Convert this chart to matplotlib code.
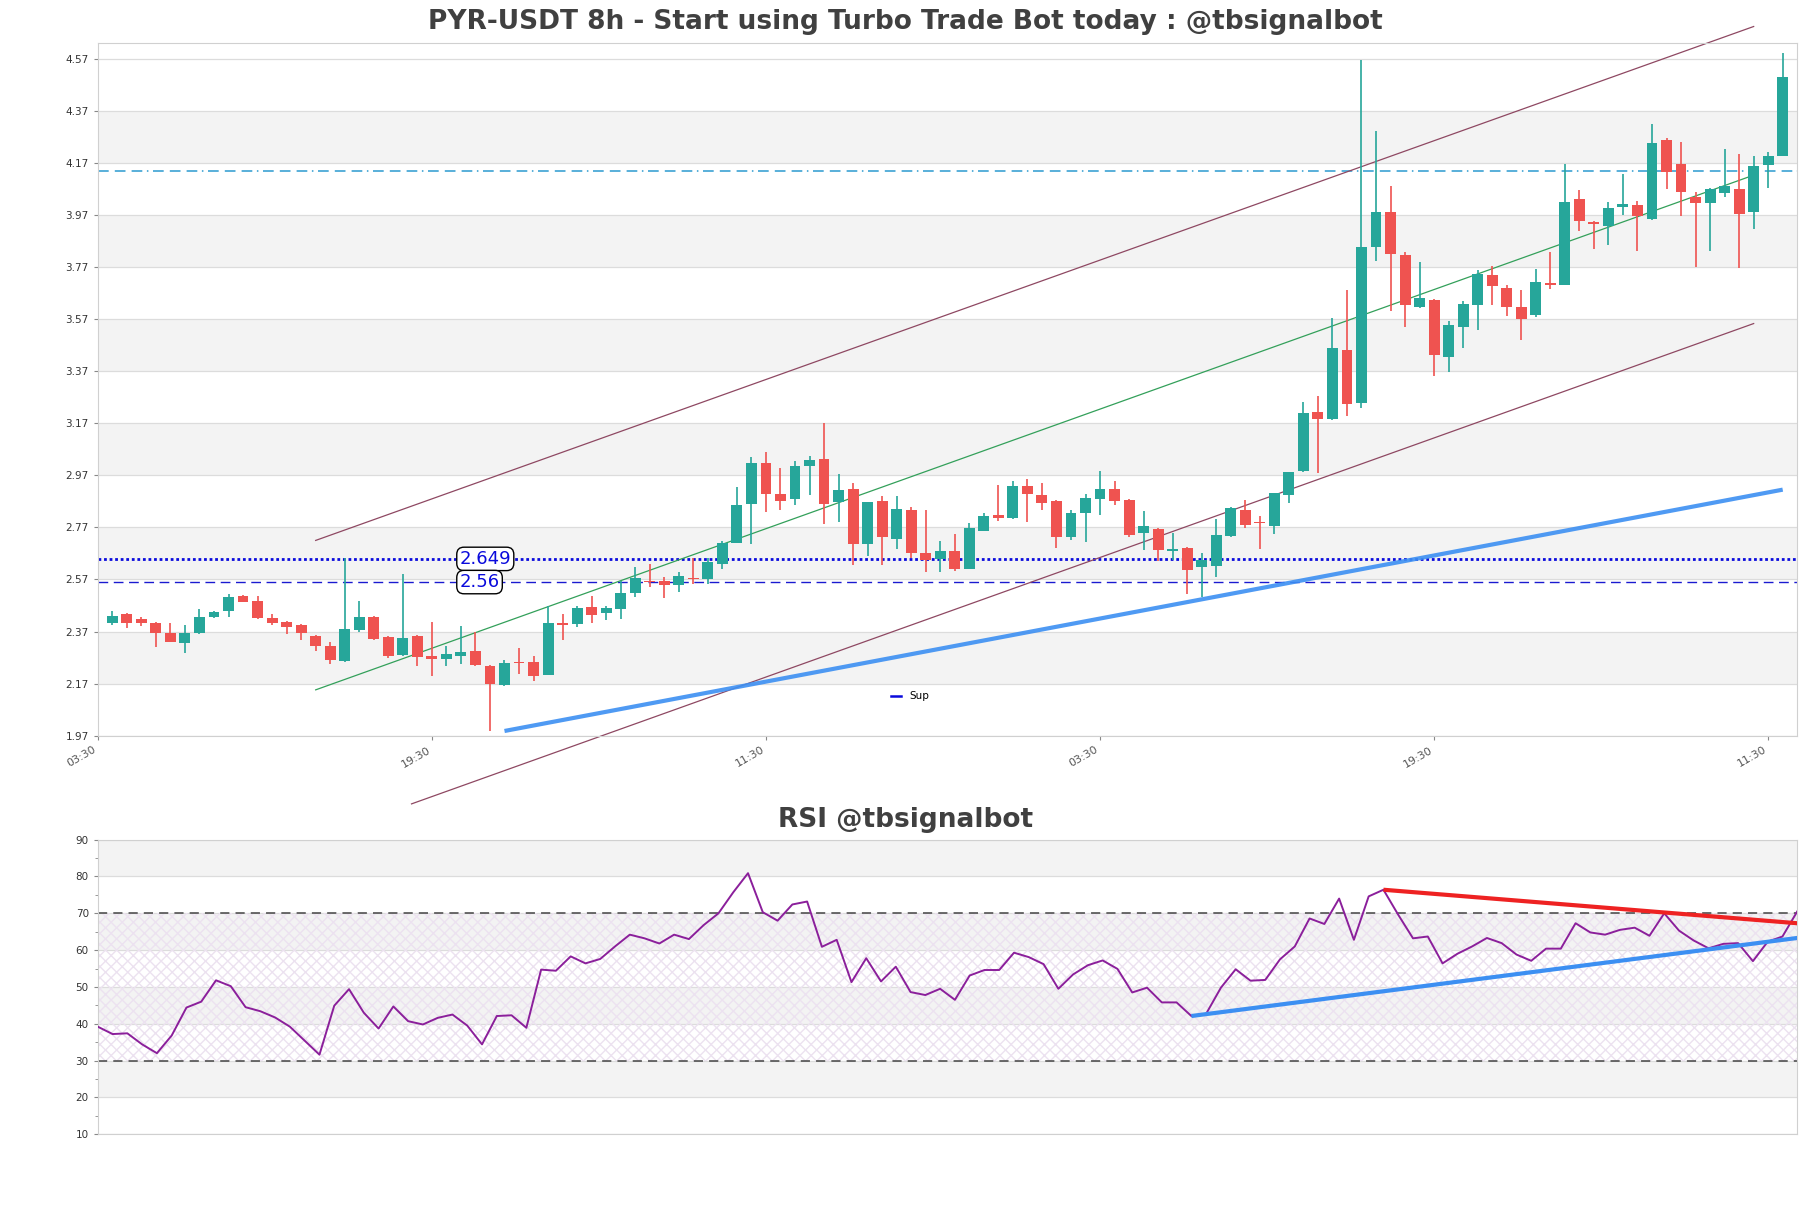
import numpy as np
import matplotlib
matplotlib.use("Agg")
import matplotlib.pyplot as plt
from matplotlib.lines import Line2D

# ---------------- data ----------------
opens = [2.404, 2.436, 2.417, 2.404, 2.366, 2.325, 2.366, 2.424, 2.448, 2.506,
         2.486, 2.422, 2.408, 2.397, 2.352, 2.314, 2.256, 2.374, 2.427, 2.348,
         2.279, 2.353, 2.277, 2.264, 2.275, 2.296, 2.239, 2.165, 2.254, 2.254,
         2.202, 2.403, 2.399, 2.463, 2.443, 2.457, 2.519, 2.566, 2.566, 2.550,
         2.577, 2.570, 2.630, 2.709, 2.858, 3.017, 2.897, 2.879, 3.006, 3.032,
         2.868, 2.916, 2.706, 2.870, 2.725, 2.835, 2.673, 2.650, 2.680, 2.610,
         2.758, 2.819, 2.808, 2.928, 2.893, 2.870, 2.733, 2.825, 2.879, 2.917,
         2.875, 2.749, 2.763, 2.681, 2.690, 2.619, 2.621, 2.737, 2.835, 2.791,
         2.774, 2.896, 2.985, 3.214, 3.185, 3.451, 3.246, 3.847, 3.983, 3.818,
         3.616, 3.642, 3.426, 3.538, 3.623, 3.741, 3.691, 3.617, 3.584, 3.709,
         3.700, 4.033, 3.942, 3.926, 4.000, 4.010, 3.956, 4.257, 4.164, 4.041,
         4.015, 4.054, 4.068, 3.981, 4.162, 4.196]
highs = [2.450, 2.443, 2.425, 2.408, 2.404, 2.395, 2.457, 2.450, 2.514, 2.510,
         2.507, 2.438, 2.412, 2.400, 2.357, 2.328, 2.651, 2.487, 2.431, 2.352,
         2.591, 2.355, 2.407, 2.313, 2.393, 2.368, 2.241, 2.260, 2.305, 2.276,
         2.467, 2.436, 2.467, 2.505, 2.469, 2.565, 2.616, 2.631, 2.579, 2.599,
         2.652, 2.652, 2.717, 2.925, 3.040, 3.058, 2.999, 3.026, 3.043, 3.171,
         2.974, 2.942, 2.866, 2.892, 2.892, 2.849, 2.835, 2.719, 2.743, 2.788,
         2.825, 2.932, 2.947, 2.955, 2.939, 2.875, 2.835, 2.897, 2.988, 2.948,
         2.878, 2.833, 2.766, 2.747, 2.695, 2.671, 2.801, 2.850, 2.877, 2.814,
         2.901, 2.983, 3.252, 3.276, 3.575, 3.682, 4.564, 4.293, 4.083, 3.828,
         3.788, 3.648, 3.564, 3.641, 3.760, 3.773, 3.700, 3.683, 3.764, 3.827,
         4.164, 4.065, 3.946, 4.018, 4.127, 4.024, 4.318, 4.266, 4.249, 4.060,
         4.074, 4.222, 4.204, 4.196, 4.213, 4.592]
lows = [2.397, 2.382, 2.390, 2.311, 2.330, 2.288, 2.361, 2.421, 2.424, 2.482,
        2.419, 2.394, 2.362, 2.336, 2.295, 2.247, 2.254, 2.369, 2.337, 2.270,
        2.276, 2.237, 2.198, 2.237, 2.247, 2.237, 1.989, 2.161, 2.208, 2.179,
        2.202, 2.339, 2.388, 2.404, 2.415, 2.418, 2.504, 2.542, 2.497, 2.523,
        2.552, 2.552, 2.611, 2.709, 2.706, 2.831, 2.837, 2.857, 2.896, 2.783,
        2.791, 2.625, 2.661, 2.625, 2.687, 2.651, 2.598, 2.598, 2.602, 2.610,
        2.755, 2.796, 2.803, 2.791, 2.837, 2.690, 2.721, 2.712, 2.816, 2.855,
        2.733, 2.682, 2.642, 2.646, 2.515, 2.501, 2.579, 2.733, 2.767, 2.686,
        2.743, 2.864, 2.982, 2.978, 3.184, 3.198, 3.229, 3.793, 3.601, 3.540,
        3.611, 3.350, 3.368, 3.461, 3.530, 3.623, 3.582, 3.488, 3.580, 3.687,
        3.700, 3.908, 3.838, 3.854, 3.969, 3.832, 3.949, 4.069, 3.965, 3.769,
        3.831, 4.039, 3.765, 3.918, 4.072, 4.196]
closes = [2.429, 2.403, 2.403, 2.364, 2.330, 2.366, 2.427, 2.445, 2.503, 2.484,
          2.422, 2.404, 2.389, 2.363, 2.316, 2.261, 2.381, 2.425, 2.343, 2.277,
          2.346, 2.272, 2.265, 2.284, 2.292, 2.241, 2.168, 2.250, 2.249, 2.198,
          2.403, 2.397, 2.459, 2.435, 2.459, 2.518, 2.574, 2.561, 2.547, 2.585,
          2.573, 2.636, 2.710, 2.857, 3.018, 2.900, 2.873, 3.005, 3.030, 2.860,
          2.912, 2.706, 2.866, 2.733, 2.839, 2.671, 2.646, 2.680, 2.610, 2.766,
          2.812, 2.806, 2.928, 2.898, 2.864, 2.733, 2.824, 2.882, 2.916, 2.870,
          2.739, 2.774, 2.682, 2.686, 2.605, 2.643, 2.740, 2.845, 2.781, 2.786,
          2.901, 2.983, 3.210, 3.185, 3.461, 3.244, 3.848, 3.983, 3.820, 3.625,
          3.653, 3.432, 3.546, 3.628, 3.745, 3.696, 3.616, 3.569, 3.713, 3.700,
          4.018, 3.946, 3.936, 3.995, 4.014, 3.965, 4.245, 4.135, 4.058, 4.015,
          4.069, 4.080, 3.973, 4.157, 4.196, 4.499]

rsi = [39.2, 37.2, 37.4, 34.4, 32.0, 36.8, 44.4, 46.0, 51.8, 50.2,
       44.5, 43.4, 41.7, 39.2, 35.4, 31.6, 44.9, 49.4, 43.0, 38.7,
       44.7, 40.7, 39.8, 41.6, 42.5, 39.5, 34.4, 42.1, 42.3, 38.9,
       54.7, 54.4, 58.3, 56.4, 57.6, 61.0, 64.2, 63.2, 61.8, 64.2,
       63.0, 66.8, 70.0, 75.7, 80.9, 70.3, 68.0, 72.4, 73.2, 60.9,
       62.8, 51.3, 57.8, 51.5, 55.5, 48.6, 47.8, 49.5, 46.5, 53.1,
       54.6, 54.6, 59.3, 58.1, 56.2, 49.5, 53.4, 55.9, 57.2, 54.9,
       48.5, 49.8, 45.8, 45.8, 42.1, 42.7, 49.8, 54.8, 51.7, 51.9,
       57.5, 61.0, 68.6, 67.1, 74.0, 62.8, 74.6, 76.4, 69.6, 63.2,
       63.7, 56.4, 59.0, 61.0, 63.3, 61.9, 58.8, 57.1, 60.4, 60.4,
       67.3, 64.8, 64.2, 65.5, 66.1, 63.9, 70.0, 65.3, 62.6, 60.5,
       61.7, 61.9, 57.0, 62.3, 63.7, 70.5]

x_tick_pos = [-1, 22, 45, 68, 91, 114]
x_tick_labels = ["03:30", "19:30", "11:30", "03:30", "19:30", "11:30"]
price_ticks = [1.97, 2.17, 2.37, 2.57, 2.77, 2.97, 3.17, 3.37, 3.57, 3.77,
               3.97, 4.17, 4.37, 4.57]
rsi_ticks = [10, 20, 30, 40, 50, 60, 70, 80, 90]

# channel / trend lines (index, price)
chan_x = [14, 113]
chan_upper = [2.720, 4.694]
chan_mid = [2.146, 4.123]
chan_lower_x = [20.6, 113]
chan_lower = [1.708, 3.553]
sup_x = [27, 115]
sup_y = [1.988, 2.915]
level_res = 4.14
level_a = 2.649
level_b = 2.56

rsi_red_x = [87, 115]
rsi_red_y = [76.4, 67.3]
rsi_blue_x = [74, 115]
rsi_blue_y = [42.1, 63.3]

# ---------------- figure ----------------
fig = plt.figure(figsize=(18.11, 12.08), dpi=100)
ax = fig.add_axes([0.054, 0.391, 0.9384, 0.5737])
ax2 = fig.add_axes([0.054, 0.0611, 0.9384, 0.2438])

UP = "#26a69a"
DN = "#ef5350"
BAND = "#f3f3f3"
GRID = "#dcdcdc"

n = len(closes)
xs = np.arange(n)

# background bands
for k in range(1, len(price_ticks) - 1, 2):
    ax.axhspan(price_ticks[k], price_ticks[k + 1], color=BAND, zorder=0, lw=0)
for t in price_ticks:
    ax.axhline(t, color=GRID, lw=0.9, zorder=0.5)

o = np.array(opens); c = np.array(closes); h = np.array(highs); l = np.array(lows)
cols = np.where(c >= o, UP, DN)
ax.vlines(xs, l, h, colors=cols, lw=1.2, zorder=3)
body_h = np.maximum(np.abs(c - o), 0.004)
ax.bar(xs, body_h, bottom=np.minimum(o, c), width=0.75, color=cols, lw=0, zorder=4)

# horizontal levels
ax.axhline(level_res, color="#2b9ad0", lw=1.1, ls=(0, (7, 4, 7, 4, 7, 3, 1, 3)), zorder=2)
ax.axhline(level_a, color="#0a0adc", lw=2.0, ls=(0, (1, 1)), zorder=2)
ax.axhline(level_b, color="#1a1ad0", lw=1.0, ls=(0, (7, 4)), zorder=2)

ax.text(23.9, level_a, "2.649", color="#0a0adc", fontsize=13, va="center", ha="left",
        bbox=dict(boxstyle="round,pad=0.15,rounding_size=0.4", fc="white", ec="black", lw=1.0),
        zorder=6)
ax.text(23.9, level_b, "2.56", color="#0a0adc", fontsize=13, va="center", ha="left",
        bbox=dict(boxstyle="round,pad=0.15,rounding_size=0.4", fc="white", ec="black", lw=1.0),
        zorder=6)

# channel lines
ax.plot(chan_x, chan_upper, color="#8e4862", lw=0.9, clip_on=False, zorder=2)
ax.plot(chan_x, chan_mid, color="#33a05a", lw=0.9, clip_on=False, zorder=2)
ax.plot(chan_lower_x, chan_lower, color="#8e4862", lw=0.9, clip_on=False, zorder=2)
ax.plot(sup_x, sup_y, color="#3c8ff2", lw=3.0, alpha=0.9, solid_capstyle="butt", zorder=2)

ax.set_xlim(-1, 116)
ax.set_ylim(1.97, 4.632)
ax.set_yticks(price_ticks)
ax.set_yticklabels([f"{t:.2f}" for t in price_ticks], fontsize=7.5, color="#333333")
ax.set_xticks(x_tick_pos)
ax.set_xticklabels(x_tick_labels, rotation=30, ha="right", fontsize=8, color="#555555")
ax.tick_params(axis="both", length=3, color="#888888")
for s in ax.spines.values():
    s.set_color("#d0d0d0")

leg_handle = [Line2D([0], [0], color="#0a0adc", lw=1.8)]
ax.legend(leg_handle, ["Sup"], loc="center", bbox_to_anchor=(0.478, 0.057),
          frameon=False, fontsize=7.5, handlelength=1.0)

fig.text(0.5, 0.982, "PYR-USDT 8h - Start using Turbo Trade Bot today : @tbsignalbot",
         ha="center", va="center", fontsize=19, fontweight="bold", color="#404040")

# ---------------- RSI ----------------
for k in range(1, len(rsi_ticks) - 1, 2):
    ax2.axhspan(rsi_ticks[k], rsi_ticks[k + 1], color=BAND, zorder=0, lw=0)
for t in rsi_ticks:
    ax2.axhline(t, color=GRID, lw=0.9, zorder=0.5)
ax2.fill_between([0, len(rsi) - 1], 30, 70, facecolor="none", hatch="xxx",
                 edgecolor="#ece2f0", lw=0, zorder=0.8)
ax2.axhline(70, color="#444444", lw=1.1, ls=(0, (6, 4)), zorder=2)
ax2.axhline(30, color="#444444", lw=1.1, ls=(0, (6, 4)), zorder=2)

rx = np.arange(len(rsi))
ax2.plot(rx, rsi, color="#8b1f9b", lw=1.4, zorder=3)
ax2.plot(rsi_red_x, rsi_red_y, color="#ee2222", lw=3.0, zorder=4, solid_capstyle="butt")
ax2.plot(rsi_blue_x, rsi_blue_y, color="#3c8ff2", lw=3.0, zorder=4, solid_capstyle="butt")

ax2.set_xlim(0, len(rsi) - 1)
ax2.set_ylim(10, 90)
ax2.set_yticks(rsi_ticks)
ax2.set_yticks(np.arange(15, 90, 10), minor=True)
ax2.set_yticklabels([str(t) for t in rsi_ticks], fontsize=7.5, color="#333333")
ax2.set_xticks([])
ax2.tick_params(axis="y", length=3, color="#888888")
ax2.tick_params(axis="y", which="minor", length=2, color="#888888")
for s in ax2.spines.values():
    s.set_color("#d0d0d0")
fig.text(0.5, 0.321, "RSI @tbsignalbot", ha="center", va="center",
         fontsize=19, fontweight="bold", color="#404040")

fig.savefig("out.png", dpi=100, facecolor="white")
